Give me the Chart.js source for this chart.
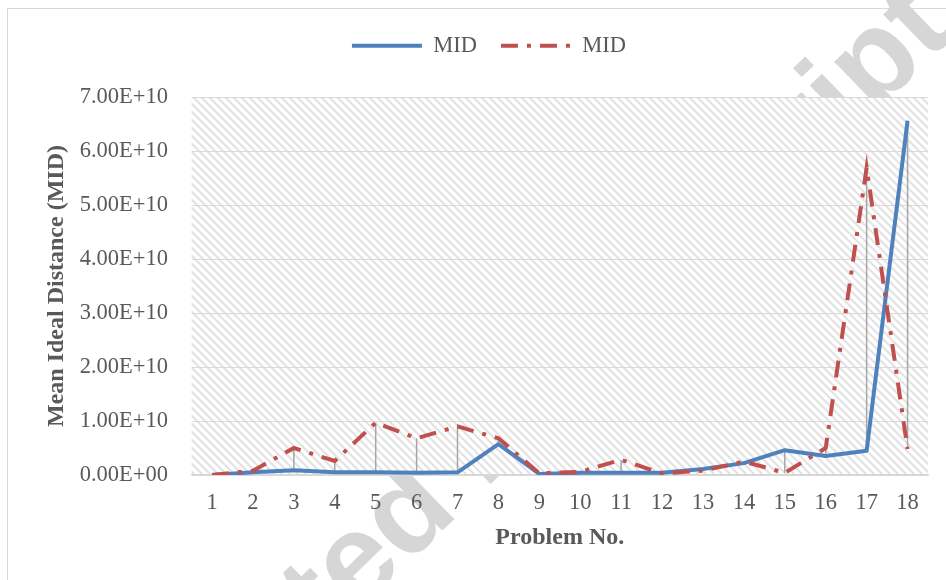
<!DOCTYPE html>
<html lang="en">
<head>
    <meta charset="UTF-8">
    <title>Mean Ideal Distance</title>
    <script src="https://cdn.jsdelivr.net/npm/chart.js"></script>
    <style>
        body { margin: 0; background: #fff; }
        canvas { display: block; }
    </style>
</head>
<body>
    <canvas id="midChart" width="946" height="580"></canvas>

    <script>
        // values
        const problems = ['1','2','3','4','5','6','7','8','9','10','11','12','13','14','15','16','17','18'];
        const midSolid = [0, 5e8, 9e8, 5e8, 5e8, 4e8, 5e8, 5.7e9, 2e8, 4e8, 4e8, 4e8, 1.1e9, 2.2e9, 4.6e9, 3.5e9, 4.5e9, 6.56e10];
        const midDashed = [0, 8e8, 5.0e9, 2.6e9, 9.7e9, 6.8e9, 9.0e9, 6.8e9, 3e8, 6e8, 2.8e9, 3e8, 8e8, 2.5e9, 4e8, 5.0e9, 5.69e10, 4.8e9];
        const yMax = 7e10;
        const yStep = 1e10;

        const serif = "'Liberation Serif', 'Times New Roman', serif";
        const textColor = '#595959';

        function sci(v) {
            if (v === 0) return '0.00E+00';
            const e = Math.floor(Math.log10(v) + 1e-9);
            const m = v / Math.pow(10, e);
            return m.toFixed(2) + 'E+' + String(e).padStart(2, '0');
        }

        // hatch fill of the plot area
        function makeHatch(ctx) {
            const c = document.createElement('canvas');
            c.width = 8; c.height = 8;
            const p = c.getContext('2d');
            p.fillStyle = '#fff';
            p.fillRect(0, 0, 8, 8);
            p.strokeStyle = '#e3e3e3';
            p.lineWidth = 2.2;
            p.beginPath();
            p.moveTo(-2, -2); p.lineTo(10, 10);
            p.moveTo(-2, 6); p.lineTo(2, 10);
            p.moveTo(6, -2); p.lineTo(10, 2);
            p.stroke();
            return ctx.createPattern(c, 'repeat');
        }

        const backdrop = {
            id: 'backdrop',
            beforeDraw(chart) {
                const ctx = chart.ctx;
                const a = chart.chartArea;
                ctx.save();
                ctx.fillStyle = '#fff';
                ctx.fillRect(0, 0, chart.width, chart.height);
                ctx.strokeStyle = '#d9d9d9';
                ctx.lineWidth = 1;
                ctx.strokeRect(7.5, 8.5, 1000, 1000);

                // watermark
                ctx.save();
                ctx.translate(62, 898);
                ctx.rotate(-44 * Math.PI / 180);
                ctx.font = "bold 123px 'Liberation Sans', Arial, sans-serif";
                ctx.fillStyle = '#d6d6d6';
                ctx.textBaseline = 'alphabetic';
                ctx.fillText('Accepted Manuscript', 0, 0);
                ctx.restore();

                ctx.fillStyle = makeHatch(ctx);
                ctx.fillRect(a.left, a.top, a.right - a.left, a.bottom - a.top);
                ctx.restore();
            }
        };

        // grey high-low lines between the two series
        const dropLines = {
            id: 'dropLines',
            beforeDatasetsDraw(chart) {
                const m0 = chart.getDatasetMeta(0).data;
                const m1 = chart.getDatasetMeta(1).data;
                const ctx = chart.ctx;
                ctx.save();
                ctx.strokeStyle = '#a6a6a6';
                ctx.lineWidth = 1.5;
                ctx.beginPath();
                for (let i = 0; i < m0.length; i++) {
                    const x = m0[i].x;
                    ctx.moveTo(x, Math.min(m0[i].y, m1[i].y));
                    ctx.lineTo(x, Math.max(m0[i].y, m1[i].y));
                }
                ctx.stroke();
                ctx.restore();
            }
        };

        new Chart(document.getElementById('midChart'), {
            type: 'line',
            data: {
                labels: problems,
                datasets: [{
                    label: 'MID',
                    data: midSolid,
                    borderColor: '#4f81bd',
                    backgroundColor: '#4f81bd',
                    borderWidth: 4,
                    pointRadius: 0,
                    tension: 0,
                    borderJoinStyle: 'round',
                    order: 2
                }, {
                    label: 'MID',
                    data: midDashed,
                    borderColor: '#c0504d',
                    backgroundColor: '#c0504d',
                    borderWidth: 4,
                    borderDash: [17, 9, 4, 9],
                    pointRadius: 0,
                    tension: 0,
                    order: 1
                }]
            },
            options: {
                responsive: false,
                animation: false,
                devicePixelRatio: 1,
                layout: { padding: { left: 49.9, right: 18, top: 10.45, bottom: 0 } },
                plugins: {
                    tooltip: { enabled: false },
                    legend: {
                        position: 'top',
                        labels: {
                            usePointStyle: true,
                            pointStyle: 'line',
                            pointStyleWidth: 70,
                            padding: 24,
                            color: textColor,
                            font: { family: serif, size: 22.5 },
                            sort: (a, b) => a.datasetIndex - b.datasetIndex,
                            generateLabels(chart) {
                                const items = Chart.defaults.plugins.legend.labels.generateLabels(chart);
                                items.forEach(it => {
                                    const ds = chart.data.datasets[it.datasetIndex];
                                    it.lineDash = ds.borderDash || [];
                                    it.lineWidth = 4;
                                    it.strokeStyle = ds.borderColor;
                                });
                                return items;
                            }
                        }
                    },
                    // empty title used as spacer between legend and plot
                    title: {
                        display: true,
                        text: '',
                        weight: 500,
                        padding: 0,
                        font: { size: 30.05, lineHeight: 1 }
                    }
                },
                scales: {
                    x: {
                        offset: true,
                        grid: { display: false, drawTicks: false },
                        border: { display: true, color: '#d9d9d9', width: 1.5 },
                        ticks: { color: textColor, font: { family: serif, size: 22.5 }, padding: 15, maxRotation: 0 },
                        title: {
                            display: true,
                            text: 'Problem No.',
                            color: textColor,
                            font: { family: serif, size: 24, weight: 'bold' },
                            padding: { top: 0, bottom: 27.6 }
                        },
                        afterFit(scale) { scale.height = 105; }
                    },
                    y: {
                        min: 0,
                        max: yMax,
                        grid: { color: '#d9d9d9', lineWidth: 1, drawTicks: false },
                        border: { display: false },
                        ticks: {
                            stepSize: yStep,
                            color: textColor,
                            font: { family: serif, size: 22.5 },
                            padding: 23.6,
                            callback: v => sci(v)
                        },
                        title: {
                            display: true,
                            text: 'Mean Ideal Distance (MID)',
                            color: textColor,
                            font: { family: serif, size: 24, weight: 'bold' },
                            padding: { top: -7.3, bottom: 0 }
                        },
                        afterFit(scale) { scale.width = 141.7; }
                    }
                }
            },
            plugins: [backdrop, dropLines]
        });
    </script>
</body>
</html>
